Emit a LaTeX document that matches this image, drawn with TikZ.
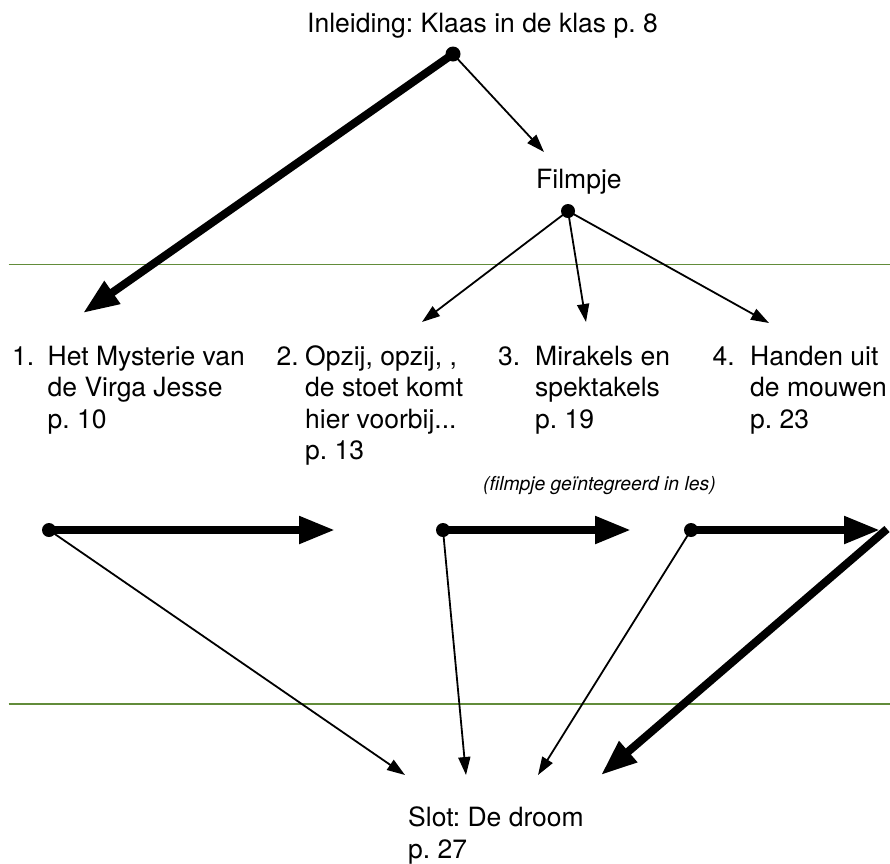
\documentclass[tikz,border=0pt]{standalone}
\usepackage{fontspec}
\setmainfont{TeX Gyre Heros}
\usetikzlibrary{arrows.meta}
\definecolor{rulegreen}{RGB}{98,140,58}
\newcommand{\stackedlines}[1]{\begin{tabular}[t]{@{}l@{}}#1\end{tabular}}
\frenchspacing
\tikzset{
  x=1pt, y=-1pt,
  txt/.style={inner sep=0pt, anchor=base west, font=\fontsize{26.5}{31.5}\selectfont},
  smalltxt/.style={inner sep=0pt, anchor=base west, font=\fontsize{19.3}{23}\selectfont\itshape},
  dotnode/.style={circle, fill=black, inner sep=0pt, minimum size=14pt},
  thinarrow/.style={line width=1.8pt, -{Triangle[length=18pt,width=12pt]}},
  thickarrow/.style={line width=8pt, -{Triangle[length=36pt,width=26pt]}},
  greenrule/.style={draw=rulegreen, line width=1.5pt}
}
\begin{document}
\begin{tikzpicture}
\fill[white] (0,0) rectangle (890,863);
\useasboundingbox (0,0) rectangle (890,863);

% rules
\coordinate (g1a) at (8.5,264.5);
\coordinate (g1b) at (890,264.5);
\coordinate (g2a) at (8.5,704);
\coordinate (g2b) at (890,704);
\draw[greenrule] (g1a) -- (g1b);
\draw[greenrule] (g2a) -- (g2b);

% texts
\node[txt] (title) at (307,32) {Inleiding: Klaas in de klas p. 8};
\node[txt] (film) at (536,188) {Filmpje};

\node[txt] (n1) at (12,365) {1.};
\node[txt] (i1) at (47.5,365) {\stackedlines{Het Mysterie van\\de Virga Jesse\\p. 10}};
\node[txt] (n2) at (276.5,365) {2.};
\node[txt] (i2) at (305,365) {\stackedlines{Opzij, opzij, ,\\de stoet komt\\hier voorbij...\\p. 13}};
\node[txt] (n3) at (498,365) {3.};
\node[txt] (i3) at (535,365) {\stackedlines{Mirakels en\\spektakels\\p. 19}};
\node[txt] (n4) at (712.5,365) {4.};
\node[txt] (i4) at (750,365) {\stackedlines{Handen uit\\de mouwen\\p. 23}};

\node[smalltxt] (note) at (483,490) {(filmpje geïntegreerd in les)};
\node[txt, font=\fontsize{26.5}{32}\selectfont] (slot) at (408,826) {\stackedlines{Slot: De droom\\p. 27}};

% dots
\node[dotnode, minimum size=15pt] (d1) at (453,54) {};
\node[dotnode] (d2) at (568,211) {};
\node[dotnode] (r1) at (49,530) {};
\node[dotnode] (r2) at (443,530) {};
\node[dotnode] (r3) at (691,530) {};

% arrow ends
\coordinate (t1a) at (83,313);
\coordinate (t1b) at (544,152);
\coordinate (t2a) at (422,322);
\coordinate (t2b) at (586,322);
\coordinate (t2c) at (769,323);
\coordinate (h1) at (335,530);
\coordinate (h2) at (631,530);
\coordinate (h3) at (880,530);
\coordinate (s1) at (405,775);
\coordinate (s2) at (466,775);
\coordinate (s3) at (538,775);
\coordinate (s4) at (601,775);
\coordinate (k4) at (887,529);

% connectors
\draw[thickarrow] (d1.center) -- (t1a);
\draw[thinarrow] (d1.center) -- (t1b);
\draw[thinarrow] (d2.center) -- (t2a);
\draw[thinarrow] (d2.center) -- (t2b);
\draw[thinarrow] (d2.center) -- (t2c);

\draw[thickarrow] (r1.center) -- (h1);
\draw[thickarrow] (r2.center) -- (h2);
\draw[thickarrow] (r3.center) -- (h3);

\draw[thinarrow] (r1.center) -- (s1);
\draw[thinarrow] (r2.center) -- (s2);
\draw[thinarrow] (r3.center) -- (s3);
\draw[thickarrow] (k4) -- (s4);
\end{tikzpicture}
\end{document}
